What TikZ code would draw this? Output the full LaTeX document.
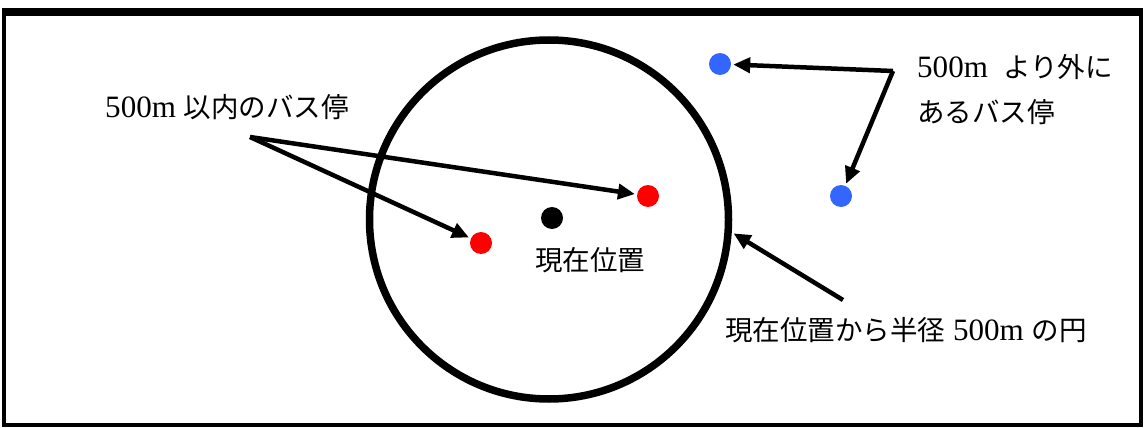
\documentclass[tikz,border=0pt]{standalone}
\usepackage{fontspec}
\setmainfont[Scale=1.13]{Liberation Serif}
\newfontfamily\cjk{Noto Sans CJK JP}
\usetikzlibrary{arrows.meta}
\begin{document}
\begin{tikzpicture}[x=1pt,y=-1pt,
  dot/.style={circle,inner sep=0pt,minimum size=22pt},
  lbl/.style={inner sep=0pt,font=\fontsize{27.5}{45}\selectfont},
  arr/.style={line width=4.5pt,-{Triangle[length=17pt,width=15pt]},shorten >=2pt}]
\useasboundingbox (0,0) rectangle (1144,428);
% frame
\draw[line width=4pt] (4,12) rectangle (1141,425);
\draw[line width=8pt] (2,12.5) -- (1143,12.5);
% range circle
\node[circle,draw,line width=7.5pt,minimum size=359pt,inner sep=0pt] (c) at (549,219.5) {};
% dots
\node[dot,fill=black] (cur) at (552,218) {};
\node[dot,fill=red] (r1) at (481,243) {};
\node[dot,fill=red] (r2) at (648,196) {};
\node[dot,fill={rgb,255:red,51;green,102;blue,255}] (b1) at (720,64) {};
\node[dot,fill={rgb,255:red,51;green,102;blue,255}] (b2) at (841,196) {};
% labels
\node[lbl] (curlbl) at (590,260) {\cjk 現在位置};
\node[lbl] (in) at (227,107) {500m {\cjk 以内のバス停}};
\node[lbl,anchor=west,align=left] (out) at (917,90) {500m\ \ {\cjk より外に}\\{\cjk あるバス停}};
\node[lbl] (rad) at (906,330) {{\cjk 現在位置から半径} 500m {\cjk の円}};
% connectors
\coordinate (inS) at (250,137);
\coordinate (outS) at (893,71);
\coordinate (radS) at (843,300);
\draw[arr] (inS) -- (r1);
\draw[arr] (inS) -- (r2);
\draw[arr] (outS) -- (b1);
\draw[arr] (outS) -- (b2);
\draw[arr] (radS) -- (c.-4);
\end{tikzpicture}
\end{document}
